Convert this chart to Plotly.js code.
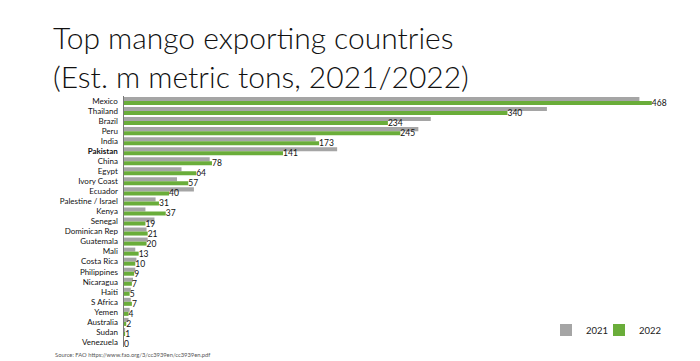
<!DOCTYPE html>
<html>
<head>
<meta charset="utf-8">
<script src="https://cdn.plot.ly/plotly-3.0.1.min.js"></script>
<style>html,body{margin:0;padding:0;background:#fff;}#chart{width:700px;height:361px;}</style>
</head>
<body>
<div id="chart"></div>
<script>
const countries = ["Mexico","Thailand","Brazil","Peru","India","Pakistan","China","Egypt","Ivory Coast","Ecuador","Palestine / Israel","Kenya","Senegal","Dominican Rep","Guatemala","Mali","Costa Rica","Philippines","Nicaragua","Haiti","S Africa","Yemen","Australia","Sudan","Venezuela"];
const tickLabels = ["Mexico","Thailand","Brazil","Peru","India","<b>Pakistan</b>","China","Egypt","Ivory Coast","Ecuador","Palestine / Israel","Kenya","Senegal","Dominican Rep","Guatemala","Mali","Costa Rica","Philippines","Nicaragua","Haiti","S Africa","Yemen","Australia","Sudan","Venezuela"];
const values2021 = [457,375,272,261,170,189,76,51,47,62,28,19,27,20,21,10,11,10,8,6,6,5,4,1,0];
const values2022 = [468,340,234,245,173,141,78,64,57,40,31,37,19,21,20,13,10,9,7,5,7,4,2,1,0];
const seriesNames = ["2021","2022"];
const titleText = "Top mango exporting countries<br>(Est. m metric tons, 2021/2022)";
const sourceText = "Source: FAO https://www.fao.org/3/cc3939en/cc3939en.pdf";

const baseFont = "Lato, 'Open Sans', sans-serif";

const traces = [
  {
    type: "bar", orientation: "h", name: seriesNames[0],
    y: countries, x: values2021,
    marker: {color: "#a5a5a5"},
    legend: "legend",
    hoverinfo: "x+y"
  },
  {
    type: "bar", orientation: "h", name: seriesNames[1],
    y: countries, x: values2022,
    marker: {color: "#6aad3a"},
    legend: "legend2",
    text: values2022.map(String),
    textposition: "outside",
    constraintext: "none",
    textfont: {family: baseFont, size: 8.5, color: "#111"},
    cliponaxis: false,
    hoverinfo: "x+y"
  }
];

const legendCommon = {
  orientation: "h", xanchor: "left", yanchor: "middle",
  y: (347 - 330) / 251,
  font: {family: baseFont, size: 9.5, color: "#222"},
  itemwidth: 30, bgcolor: "rgba(0,0,0,0)"
};

const layout = {
  width: 700, height: 361,
  margin: {l: 124, r: 20, t: 96, b: 14, autoexpand: false},
  paper_bgcolor: "#fff", plot_bgcolor: "#fff",
  barmode: "group", bargap: 0.2, bargroupgap: 0,
  showlegend: true,
  legend: Object.assign({}, legendCommon, {x: (546 - 124) / 556}),
  legend2: Object.assign({}, legendCommon, {x: (599 - 124) / 556}),
  xaxis: {visible: false, range: [0, 493], fixedrange: true},
  yaxis: {
    type: "category", autorange: "reversed",
    tickvals: countries, ticktext: tickLabels,
    showline: true, linecolor: "#777", linewidth: 1.5,
    showgrid: false, zeroline: false, ticks: "",
    ticklabelstandoff: 3,
    tickfont: {family: baseFont, size: 8, color: "#111"}
  },
  annotations: [
    {text: titleText, xref: "paper", yref: "paper", align: "left",
     x: -0.131, y: (347 - 57) / 251, xanchor: "left", yanchor: "middle", showarrow: false,
     font: {family: baseFont, size: 30, weight: 300, color: "#111"}},
    {text: sourceText, xref: "paper", yref: "paper",
     x: -0.128, y: (347 - 354) / 251, xanchor: "left", yanchor: "middle", showarrow: false,
     font: {family: baseFont, size: 5.8, color: "#555"}}
  ]
};

Plotly.newPlot("chart", traces, layout, {displayModeBar: false, staticPlot: true});
</script>
</body>
</html>
